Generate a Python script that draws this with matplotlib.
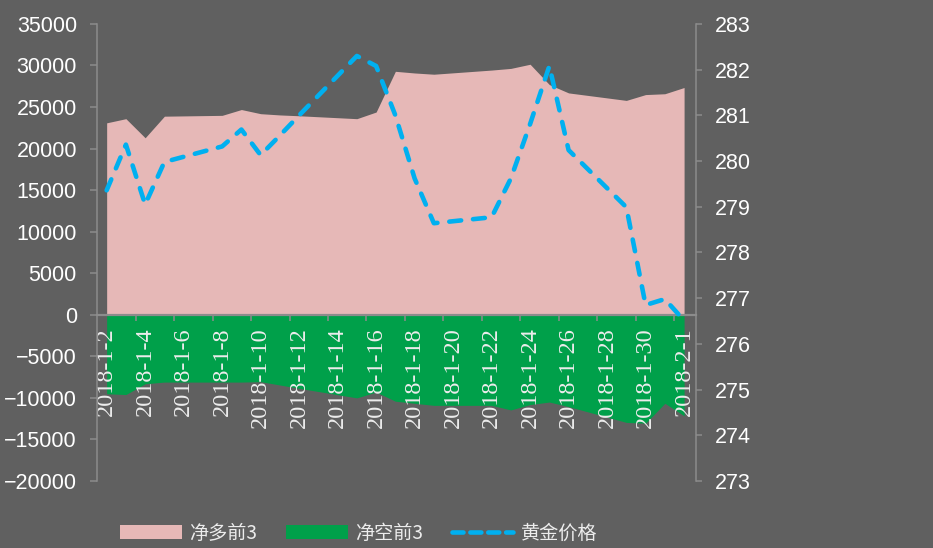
import matplotlib
matplotlib.use('Agg')
import matplotlib.pyplot as plt
import matplotlib.dates as mdates
from matplotlib.patches import Patch
from matplotlib.lines import Line2D
import numpy as np
import pandas as pd

plt.rcParams['font.family'] = ['Noto Sans CJK SC', 'DejaVu Sans']

# 交易日
dates = ['2018-01-02', '2018-01-03', '2018-01-04', '2018-01-05', '2018-01-08',
         '2018-01-09', '2018-01-10', '2018-01-11', '2018-01-12', '2018-01-15',
         '2018-01-16', '2018-01-17', '2018-01-18', '2018-01-19', '2018-01-22',
         '2018-01-23', '2018-01-24', '2018-01-25', '2018-01-26', '2018-01-29',
         '2018-01-30', '2018-01-31', '2018-02-01']
# 净多前3
net_long = [23100, 23600, 21300, 23900, 24000, 24700, 24200, 24050, 23950, 23600,
            24400, 29300, 29100, 28950, 29450, 29650, 30150, 27700, 26700, 25800,
            26500, 26600, 27350]
# 净空前3
net_short = [-9500, -9600, -8300, -8100, -8100, -8100, -8050, -8450, -8850, -10000,
             -9300, -10400, -10650, -10900, -10900, -11450, -10800, -10500, -11050, -12950,
             -13050, -10650, -12150]
# 黄金价格
gold = [279.36, 280.36, 279.05, 279.98, 280.32, 280.69, 280.13, 280.56, 281.0, 282.30,
        282.08, 281.0, 279.62, 278.64, 278.77, 279.62, 280.81, 282.08, 280.24, 278.99,
        276.85, 276.98, 276.51]

label_dates = pd.date_range('2018-01-02', '2018-02-01', freq='2D')
label_text = ['%d-%d-%d' % (d.year, d.month, d.day) for d in label_dates]

names = ['净多前3', '净空前3', '黄金价格']
pink = '#e6b8b7'
green = '#00a04a'
blue = '#00b0f0'
bg = '#606060'
axis_gray = '#8c8c8c'

x = mdates.date2num(pd.to_datetime(dates))

fig = plt.figure(figsize=(9.33, 5.48), dpi=100, facecolor=bg)
ax = fig.add_axes([0.104, 0.1223, 0.642, 0.834])
ax.set_facecolor(bg)

ax.fill_between(x, 0, net_long, color=pink, linewidth=0, zorder=1)
ax.fill_between(x, 0, net_short, color=green, linewidth=0, zorder=1)

ax.set_xlim(x[0] - 0.5, x[-1] + 0.62)
ax.set_ylim(-20000, 35000)
ax.set_yticks(np.arange(-20000, 35001, 5000))

for s in ['top', 'right']:
    ax.spines[s].set_visible(False)
ax.spines['left'].set_color(axis_gray)
ax.spines['left'].set_linewidth(1.1)
ax.spines['bottom'].set_position(('data', 0))
ax.spines['bottom'].set_color(axis_gray)
ax.spines['bottom'].set_linewidth(1.6)
ax.spines['bottom'].set_zorder(3)

# x 轴: 标签在日期上, 刻度线在中间
lab_x = mdates.date2num(label_dates)
ax.set_xticks(lab_x)
ax.set_xticklabels(label_text, rotation=90, family='Liberation Serif',
                   fontsize=17.5, color='#ececec', va='top', ha='center')
ax.set_xticks(lab_x[:-1] + 1.5, minor=True)
ax.tick_params(axis='x', which='major', length=0, pad=9)
ax.tick_params(axis='x', which='minor', length=4.3, width=1.1, color=axis_gray, direction='out')
ax.tick_params(axis='y', length=5, width=1.1, color=axis_gray, labelcolor='white',
               labelsize=15.5, pad=9.5)
for t in ax.get_yticklabels():
    t.set_family('Liberation Sans')

ax2 = ax.twinx()
ax2.patch.set_visible(False)
ax2.plot(x, gold, color=blue, linewidth=3.3, dashes=(2.6, 2.6), dash_capstyle='round',
         solid_capstyle='round', zorder=4)
ax2.set_ylim(273, 283)
ax2.set_yticks(np.arange(273, 283.1, 1))
for s in ['top', 'left', 'bottom']:
    ax2.spines[s].set_visible(False)
ax2.spines['right'].set_color(axis_gray)
ax2.spines['right'].set_linewidth(1.1)
ax2.tick_params(axis='y', length=4.3, width=1.1, color=axis_gray, labelcolor='white',
                labelsize=15.5, pad=9.4)
for t in ax2.get_yticklabels():
    t.set_family('Liberation Sans')

handles = [Patch(facecolor=pink, edgecolor='none'),
           Patch(facecolor=green, edgecolor='none'),
           Line2D([0], [0], color=blue, linewidth=3.3, dashes=(2.4, 1.5), dash_capstyle='round')]
leg = fig.legend(handles, names, loc='center', bbox_to_anchor=(359 / 933, 1 - 533 / 548),
                 ncol=3, frameon=False, fontsize=13.8, handlelength=3.2, handleheight=0.7,
                 handletextpad=0.4, columnspacing=1.5, labelcolor='#ececec')

fig.savefig('out.png', dpi=100, facecolor=fig.get_facecolor())
